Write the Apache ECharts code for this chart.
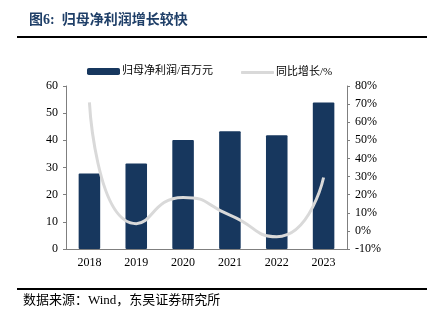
<!DOCTYPE html>
<html>
<head>
<meta charset="utf-8">
<script src="https://cdn.jsdelivr.net/npm/echarts@6/dist/echarts.min.js"></script>
<style>
  html, body { margin: 0; padding: 0; background: #fff; }
  #chart { width: 434px; height: 321px; }
</style>
</head>
<body>
<div id="chart"></div>
<script>
// Years on the category axis
const years = ['2018', '2019', '2020', '2021', '2022', '2023'];
// Net profit attributable to parent (million yuan)
const netProfit = [27.8, 31.5, 40.1, 43.3, 41.9, 53.9];
// Year-on-year growth (%)
const yoyGrowth = [71, 4, 18.5, 8.7, -3.2, 29.5];

const serif = '"Liberation Serif", "Times New Roman", "Noto Sans CJK SC", serif';
const cjk = '"Liberation Serif", "Noto Sans CJK SC", serif';
const axisColor = '#7f7f7f';

const chart = echarts.init(document.getElementById('chart'), null, { renderer: 'canvas' });

const legendText = { fontFamily: cjk, fontSize: 11, color: '#000', padding: [0, 0, 0, -3] };

chart.setOption({
  animation: false,
  backgroundColor: '#fff',
  title: {
    text: '图6:  归母净利润增长较快',
    left: 24,
    top: 8,
    textStyle: { fontFamily: cjk, fontSize: 14, fontWeight: 'bold', color: '#1f3f68' }
  },
  graphic: [
    { type: 'line', shape: { x1: 17, y1: 37, x2: 427, y2: 37 }, style: { stroke: '#000', lineWidth: 2 } },
    { type: 'line', shape: { x1: 17, y1: 289, x2: 427, y2: 289 }, style: { stroke: '#000', lineWidth: 2 } },
    {
      type: 'text', left: 23, top: 294,
      style: { text: '数据来源：Wind，东吴证券研究所', font: '13px ' + cjk, fill: '#000' }
    }
  ],
  legend: [
    {
      top: 61, left: 82,
      itemWidth: 33, itemHeight: 7,
      textStyle: legendText,
      data: [{ name: '归母净利润/百万元', icon: 'roundRect' }]
    },
    {
      top: 62, left: 236,
      itemWidth: 33, itemHeight: 3,
      textStyle: legendText,
      data: [{ name: '同比增长/%', icon: 'roundRect', itemStyle: { color: '#d9d9d9' } }]
    }
  ],
  grid: { left: 66, right: 87, top: 86, bottom: 72 },
  xAxis: {
    type: 'category',
    data: years,
    axisLine: { lineStyle: { color: axisColor, width: 1 } },
    axisTick: { inside: true, length: 4, lineStyle: { color: axisColor } },
    axisLabel: { fontFamily: serif, fontSize: 12, color: '#000', margin: 8 }
  },
  yAxis: [
    {
      type: 'value', min: 0, max: 60, interval: 10,
      axisLine: { show: true, lineStyle: { color: axisColor } },
      axisTick: { show: true, length: 3, lineStyle: { color: axisColor } },
      splitLine: { show: false },
      axisLabel: { fontFamily: serif, fontSize: 12, color: '#000', margin: 8 }
    },
    {
      type: 'value', min: -10, max: 80, interval: 10,
      axisLine: { show: true, lineStyle: { color: axisColor } },
      axisTick: { show: true, length: 3, lineStyle: { color: axisColor } },
      splitLine: { show: false },
      axisLabel: { fontFamily: serif, fontSize: 12, color: '#000', margin: 8, formatter: '{value}%' }
    }
  ],
  series: [
    {
      name: '归母净利润/百万元',
      type: 'bar',
      yAxisIndex: 0,
      data: netProfit,
      barWidth: '46%',
      itemStyle: { color: '#17375e', borderRadius: 1 }
    },
    {
      name: '同比增长/%',
      type: 'line',
      yAxisIndex: 1,
      data: yoyGrowth,
      smooth: 0.6,
      symbol: 'none',
      lineStyle: { color: '#d9d9d9', width: 3 },
      itemStyle: { color: '#d9d9d9' }
    }
  ]
});
</script>
</body>
</html>
